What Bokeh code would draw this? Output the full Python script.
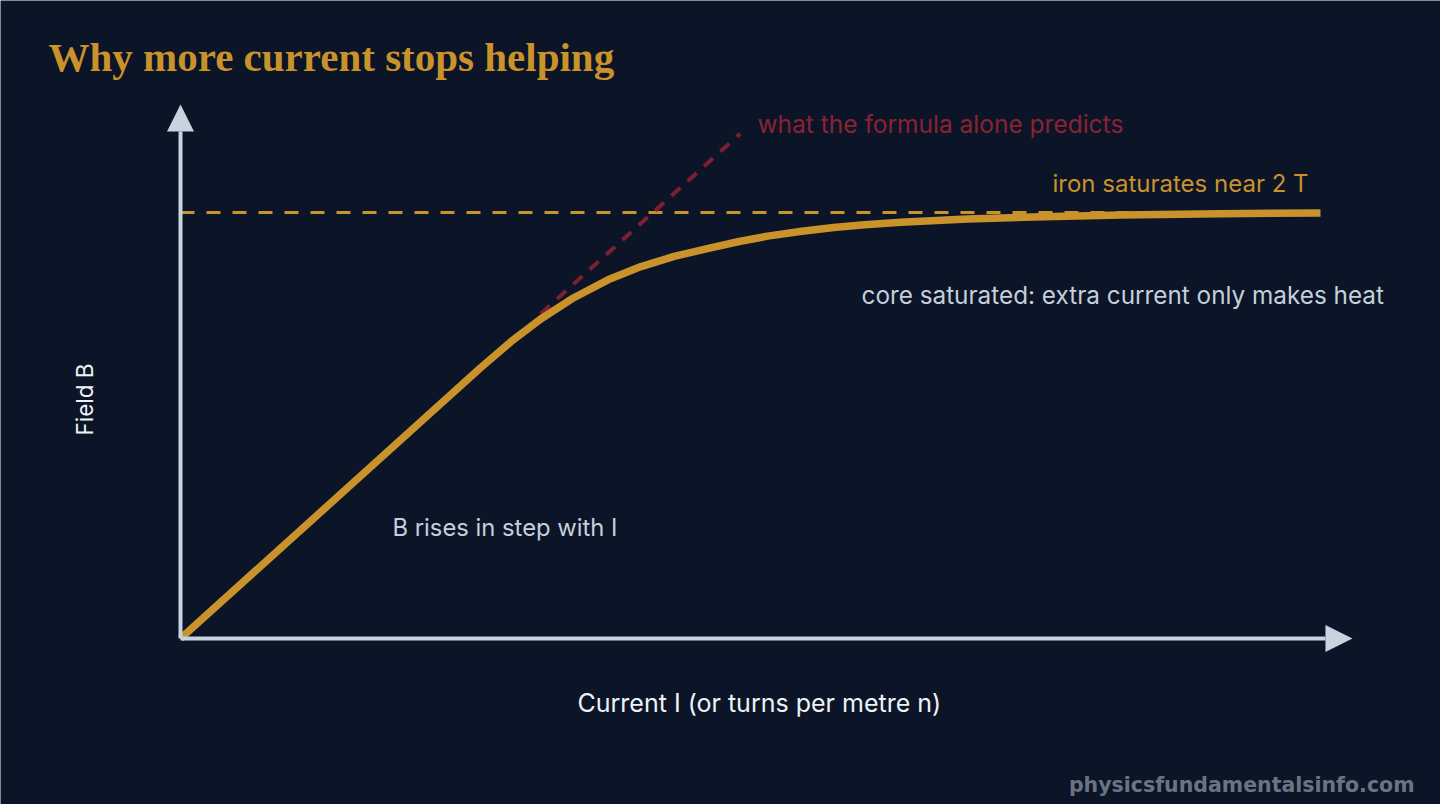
from bokeh.plotting import figure
from bokeh.models import Range1d, Label, Arrow, NormalHead
from bokeh.embed import file_html
from bokeh.resources import INLINE

# ---- data (current in arbitrary units, field in tesla) ----
current = [0, 1.5, 2.63, 2.9, 3.16, 3.45, 3.75, 4.04, 4.33, 4.65, 4.9, 5.15, 5.45, 5.73, 6.0, 6.32, 6.9, 7.48, 8.25, 9.12, 10.0]
field = [0, 0.724, 1.27, 1.394, 1.5, 1.6, 1.684, 1.746, 1.794, 1.834, 1.864, 1.889, 1.912, 1.93, 1.943, 1.954, 1.969, 1.979, 1.988, 1.994, 1.998]

formula_current = [3.16, 4.91]
formula_field = [1.525, 2.37]

saturation_current = [0, 10.0]
saturation_field = [2.0, 2.0]

x_axis_end = 10.28
y_axis_end = 2.507

title_text = "Why more current stops helping"
x_label = "Current I (or turns per metre n)"
y_label = "Field B"
label_formula = "what the formula alone predicts"
label_sat = "iron saturates near 2 T"
label_core = "core saturated: extra current only makes heat"
label_linear = "B rises in step with I"
watermark = "physicsfundamentalsinfo.com"

BG = "#0b1527"
GOLD = "#c9922b"
RED = "#7a2030"
RED_TXT = "#8b2233"
AXIS = "#c8d3e0"
TXT = "#c5cfdc"
WHITE = "#eef2f7"
GRAY = "#6b7383"

W, H = 1440, 804
OX, OY = 0, 0  # page offset

# px per unit: x 114 px per current unit, 213 px per tesla; origin at page (180, 638)
x0 = (OX - 180) / 114
x1 = (OX + W - 180) / 114
y1 = (638 - OY) / 213
y0 = (638 - (OY + H)) / 213

p = figure(width=W, height=H, output_backend="svg", toolbar_location=None,
           x_range=Range1d(x0, x1), y_range=Range1d(y0, y1), min_border=0,
           background_fill_color=BG, border_fill_color=BG, outline_line_color=None)
p.title.visible = False
p.axis.visible = False
p.grid.visible = False


def sx(px):
    return px - OX


def sy(py):
    return OY + H - py


# axes with arrows
p.add_layout(Arrow(x_start=0, y_start=0, x_end=x_axis_end, y_end=0, line_color=AXIS, line_width=4,
                   end=NormalHead(size=27, fill_color=AXIS, line_color=AXIS, line_width=0)))
p.add_layout(Arrow(x_start=0, y_start=0, x_end=0, y_end=y_axis_end, line_color=AXIS, line_width=4,
                   end=NormalHead(size=27, fill_color=AXIS, line_color=AXIS, line_width=0)))

# saturation level
p.line(saturation_current, saturation_field, line_color=GOLD, line_width=3, line_dash="14 12")
# linear prediction
p.line(formula_current, formula_field, line_color=RED, line_width=4, line_dash="12 10")
# actual curve
p.line(current, field, line_color=GOLD, line_width=7.5, line_join="round")

FONT = "Inter"

def lab(text, px, py, size, color, font=FONT, style="normal", align="left", angle=0):
    p.add_layout(Label(x=sx(px), y=sy(py), x_units="screen", y_units="screen", text=text,
                       text_font=font, text_font_size=f"{size}px", text_color=color,
                       text_font_style=style, text_align=align, text_baseline="alphabetic",
                       angle=angle))

lab(title_text, 48, 56, 41, GOLD, font="Liberation Serif", style="bold")
lab(label_formula, 757, 123, 24.5, RED_TXT)
lab(label_sat, 1052, 183, 24, GOLD)
lab(label_core, 861, 294, 24.3, TXT)
lab(label_linear, 392, 527, 23.8, TXT)
lab(x_label, 577, 702, 25, WHITE)
lab(y_label, 84, 399, 22.5, WHITE, align="center", angle=1.5708)
lab(watermark, 1414, 784, 20.5, GRAY, font="DejaVu Sans", style="bold", align="right")

open("out.html", "w").write(file_html(p, INLINE))
